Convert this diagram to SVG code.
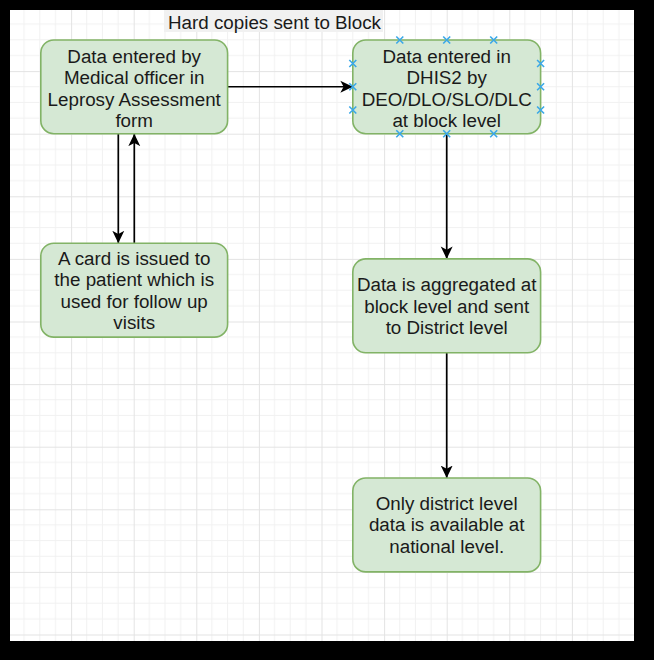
<svg xmlns="http://www.w3.org/2000/svg" width="654" height="660" viewBox="0 0 654 660">
<defs>
<pattern id="grid" patternUnits="userSpaceOnUse" x="8.5" y="8.5" width="62.6" height="62.6">
<path d="M15.65 0V62.6M31.3 0V62.6M46.95 0V62.6M0 15.65H62.6M0 31.3H62.6M0 46.95H62.6" stroke="#f1f1f1" stroke-width="1" fill="none"/>
<path d="M0.5 0V62.6M0 0.5H62.6" stroke="#e3e3e3" stroke-width="1" fill="none"/>
</pattern>
<marker id="arrow" markerUnits="userSpaceOnUse" markerWidth="13" markerHeight="13" viewBox="0 0 12 12" refX="11.5" refY="6" orient="auto">
<path d="M0 0.5L11.5 6L0 11.5L3 6Z" fill="#000"/>
</marker>
<style>
.node rect{fill:#d5e8d4;stroke:#82b366;stroke-width:1.6}
.node text,.label text{font-family:"Liberation Sans",Arial,sans-serif;font-size:18.8px;fill:#1a1a1a;text-anchor:middle}
.edge{stroke:#000;stroke-width:1.7;fill:none;marker-end:url(#arrow)}
.pt{stroke:#3aa8e8;stroke-width:1.6;fill:none}
</style>
</defs>
<rect x="0" y="0" width="654" height="660" fill="#000"/>
<rect x="10" y="10" width="624" height="631" fill="#fff"/>
<rect x="10" y="10" width="624" height="631" fill="url(#grid)"/>

<g id="label-hard-copies" class="label">
<rect x="164" y="10" width="219" height="22" fill="#f1f1f1"/>
<text x="274.5" y="28.5">Hard copies sent to Block</text>
</g>

<g id="connectors">
<path class="edge" d="M227.6 86.75H352.8"/>
<path class="edge" d="M118.3 133.7V243.25"/>
<path class="edge" d="M134.3 243.25V133.7"/>
<path class="edge" d="M446.7 133.7V258.9"/>
<path class="edge" d="M446.7 352.8V478"/>
</g>

<g id="node-medical-officer" class="node">
<rect x="40.8" y="40" width="186.8" height="93.7" rx="13"/>
<text x="134.2" y="62.5">Data entered by</text>
<text x="134.2" y="84">Medical officer in</text>
<text x="134.2" y="105.5">Leprosy Assessment</text>
<text x="134.2" y="127">form</text>
</g>

<g id="node-dhis2" class="node">
<rect x="352.8" y="40" width="187.8" height="93.7" rx="13"/>
<text x="446.7" y="62.5">Data entered in</text>
<text x="446.7" y="84">DHIS2 by</text>
<text x="446.7" y="105.5">DEO/DLO/SLO/DLC</text>
<text x="446.7" y="127">at block level</text>
<path class="pt" d="M396.3 36.5l7 7m0-7l-7 7M443.2 36.5l7 7m0-7l-7 7M490.2 36.5l7 7m0-7l-7 7M396.3 130.2l7 7m0-7l-7 7M443.2 130.2l7 7m0-7l-7 7M490.2 130.2l7 7m0-7l-7 7M349.3 60l7 7m0-7l-7 7M349.3 83.25l7 7m0-7l-7 7M349.3 106.5l7 7m0-7l-7 7M537.1 60l7 7m0-7l-7 7M537.1 83.25l7 7m0-7l-7 7M537.1 106.5l7 7m0-7l-7 7"/>
</g>

<g id="node-card" class="node">
<rect x="40.8" y="243.25" width="186.8" height="93.9" rx="13"/>
<text x="134.2" y="264.5">A card is issued to</text>
<text x="134.2" y="286">the patient which is</text>
<text x="134.2" y="307.5">used for follow up</text>
<text x="134.2" y="329">visits</text>
</g>

<g id="node-aggregated" class="node">
<rect x="352.8" y="258.9" width="187.8" height="93.9" rx="13"/>
<text x="446.7" y="291">Data is aggregated at</text>
<text x="446.7" y="312.5">block level and sent</text>
<text x="446.7" y="334">to District level</text>
</g>

<g id="node-national" class="node">
<rect x="352.8" y="478" width="187.8" height="93.9" rx="13"/>
<text x="446.7" y="509.5">Only district level</text>
<text x="446.7" y="531">data is available at</text>
<text x="446.7" y="552.5">national level.</text>
</g>
</svg>
